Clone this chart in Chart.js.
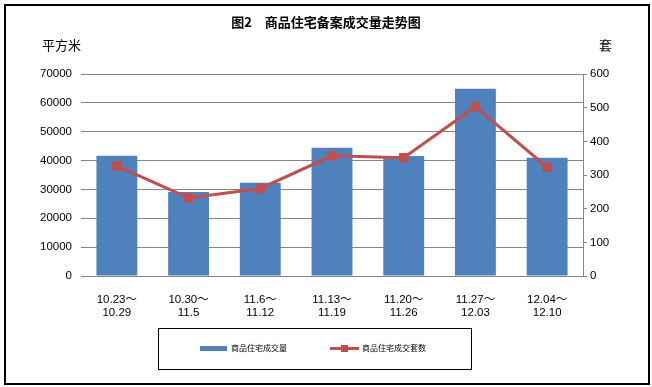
<!DOCTYPE html>
<html>
<head>
<meta charset="utf-8">
<script src="https://cdn.jsdelivr.net/npm/chart.js@4"></script>
<style>
  body { margin: 0; background: #fff; }
  #wrap { position: relative; width: 652px; height: 387px; font-family: "Noto Sans CJK SC", sans-serif; }
  #grafico { position: absolute; left: 0; top: 0; }
  .marco { position: absolute; left: 4px; top: 4px; width: 646px; height: 381px; box-sizing: border-box; border: 2px solid #000; }
  .txt { position: absolute; color: #000; white-space: pre; line-height: 1; }
  #leyenda { position: absolute; left: 158px; top: 328px; width: 314px; height: 42px; box-sizing: border-box; border: 1.5px solid #000; }
</style>
</head>
<body>
<div id="wrap">
  <canvas id="grafico" width="652" height="387"></canvas>
  <div class="marco"></div>
  <div class="txt" style="left:0;width:652px;text-align:center;top:15px;font-size:13px;font-weight:bold;">图2　商品住宅备案成交量走势图</div>
  <div class="txt" style="left:42px;top:38px;font-size:13px;">平方米</div>
  <div class="txt" style="left:599px;top:38px;font-size:13px;">套</div>
  <div id="leyenda">
    <div style="position:absolute;left:41px;top:17px;width:27px;height:5px;background:#4F81BD;"></div>
    <div class="txt" style="left:72px;top:15px;font-size:8px;">商品住宅成交量</div>
    <div style="position:absolute;left:171px;top:18px;width:29px;height:3px;background:#C0504D;"></div>
    <div style="position:absolute;left:182px;top:16px;width:7px;height:7px;background:#C0504D;"></div>
    <div class="txt" style="left:203px;top:15px;font-size:8px;">商品住宅成交套数</div>
  </div>
</div>
<script>
// datos
const semanas = [
    ["10.23～", "10.29"], ["10.30～", "11.5"], ["11.6～", "11.12"], ["11.13～", "11.19"],
    ["11.20～", "11.26"], ["11.27～", "12.03"], ["12.04～", "12.10"]
];
const areaVendida = [41700, 29100, 32300, 44400, 41600, 64900, 41000]; // 平方米
const unidadesVendidas = [327, 232, 260, 357, 351, 503, 323]; // 套

const gris = "#868686";
const fuenteEje = { family: "'Liberation Sans', 'Noto Sans CJK SC', sans-serif", size: 11.5 };

const ctx = document.getElementById("grafico").getContext("2d");
new Chart(ctx, {
    data: {
        labels: semanas,
        datasets: [
            {
                type: "line",
                label: "商品住宅成交套数",
                data: unidadesVendidas,
                yAxisID: "y1",
                borderColor: "#C0504D",
                backgroundColor: "#C0504D",
                borderWidth: 3,
                pointStyle: "rect",
                pointRadius: 6,
                pointBorderWidth: 1,
                tension: 0,
                order: 0
            },
            {
                type: "bar",
                label: "商品住宅成交量",
                data: areaVendida,
                yAxisID: "y",
                backgroundColor: "#4F81BD",
                barPercentage: 0.57,
                categoryPercentage: 1,
                order: 1
            }
        ]
    },
    options: {
        responsive: false,
        animation: false,
        devicePixelRatio: 1,
        layout: { padding: { top: 74, left: 0, right: 0, bottom: 0 } },
        plugins: { legend: { display: false }, title: { display: false }, tooltip: { enabled: false } },
        scales: {
            x: {
                grid: { display: false },
                border: { display: true, color: gris },
                ticks: { color: "#000", font: { ...fuenteEje, lineHeight: 1.15 }, padding: 9, maxRotation: 0, autoSkip: false },
                afterFit: (s) => { s.height = 111; }
            },
            y: {
                position: "left",
                min: 0, max: 70000,
                ticks: { stepSize: 10000, color: "#000", font: fuenteEje, padding: 9, callback: (v) => String(v) },
                grid: { color: gris, drawTicks: false },
                border: { display: false },
                afterFit: (s) => { s.width = 81; }
            },
            y1: {
                position: "right",
                min: 0, max: 600,
                ticks: { stepSize: 100, color: "#000", font: fuenteEje, padding: 3, callback: (v) => String(v) },
                grid: { drawOnChartArea: false, drawTicks: true, tickLength: 4, color: gris },
                border: { display: true, color: gris },
                afterFit: (s) => { s.width = 69; }
            }
        }
    }
});
</script>
</body>
</html>
